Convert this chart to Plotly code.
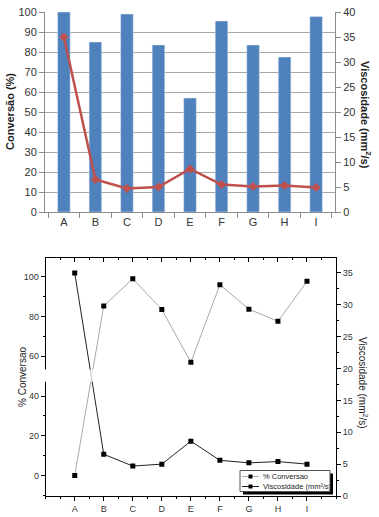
import plotly.graph_objects as go

categorias = ["A", "B", "C", "D", "E", "F", "G", "H", "I"]
conversao = [100, 85, 99, 83.5, 57, 95.5, 83.5, 77.5, 97.7]
viscosidade = [35, 6.5, 4.7, 5.0, 8.6, 5.5, 5.1, 5.3, 4.9]
conversao_inferior = [0, 85.3, 99, 83.5, 57, 96, 83.7, 77.6, 97.7]
viscosidade_inferior = [35, 6.55, 4.7, 5.0, 8.6, 5.6, 5.2, 5.4, 5.0]
legenda = ["% Conversao", "Viscosidade (mm²/s)"]
posicoes = list(range(len(categorias)))

W, H = 379, 517
ML, MR, MT, MB = 45, 43, 12, 21
PH = H - MT - MB
PW = W - ML - MR

def py(p):
    return (H - MB - p) / PH

def px(p):
    return (p - ML) / PW

fig = go.Figure()

# ---- top chart
fig.add_trace(go.Bar(x=categorias, y=conversao, marker_color="#4F81BD", width=0.4,
                     xaxis="x", yaxis="y", showlegend=False))
fig.add_trace(go.Scatter(x=categorias, y=viscosidade, mode="lines+markers",
                         line=dict(color="#C0504D", width=2.5),
                         marker=dict(symbol="diamond", size=7, color="#C0504D"),
                         xaxis="x", yaxis="y2", showlegend=False))

# ---- bottom chart
fig.add_trace(go.Scatter(x=posicoes, y=conversao_inferior, mode="lines+markers", name=legenda[0],
                         line=dict(color="#a8a8a8", width=1),
                         marker=dict(symbol="square", size=5, color="black"),
                         xaxis="x2", yaxis="y3", showlegend=False))
fig.add_trace(go.Scatter(x=posicoes, y=viscosidade_inferior, mode="lines+markers",
                         name=legenda[1],
                         line=dict(color="#222222", width=1),
                         marker=dict(symbol="square", size=5, color="black"),
                         xaxis="x2", yaxis="y4", showlegend=False))
fig.add_trace(go.Scatter(x=[0], y=[0], mode="none", xaxis="x3", yaxis="y3",
                         showlegend=False, hoverinfo="skip"))

top_dom = [py(212), 1]
bot_dom = [0, py(258.3)]

tickfont_top = dict(family="Liberation Sans, Arial", size=11, color="#333333")
tickfont_bot = dict(family="Liberation Sans, Arial", size=9, color="#333333")

fig.update_layout(
    width=W, height=H,
    margin=dict(l=ML, r=MR, t=MT, b=MB),
    paper_bgcolor="white", plot_bgcolor="white",
    bargap=0.6, showlegend=False,
    xaxis=dict(domain=[0, 290 / PW], anchor="y", type="category", automargin=False,
               showline=True, linecolor="#8c8c8c", ticks="outside", tickson="boundaries",
               ticklen=5, tickcolor="#8c8c8c", tickfont=tickfont_top, showgrid=False),
    yaxis=dict(domain=top_dom, anchor="x", range=[0, 100], dtick=10, automargin=False,
               showline=True, linecolor="#8c8c8c", ticks="outside", ticklen=5,
               tickcolor="#8c8c8c", tickfont=tickfont_top,
               showgrid=True, gridcolor="#a6a6a6", gridwidth=1, zeroline=False),
    yaxis2=dict(overlaying="y", side="right", anchor="x", range=[0, 40], dtick=5,
                automargin=False,
                showline=True, linecolor="#8c8c8c", ticks="outside", ticklen=5,
                tickcolor="#8c8c8c", tickfont=tickfont_top, showgrid=False, zeroline=False),
    xaxis2=dict(domain=[0.7 / PW, 1], anchor="y3", range=[-1, 9], automargin=False,
                tickvals=posicoes, ticktext=categorias,
                showline=True, linecolor="black", linewidth=1, mirror=True,
                ticks="outside", ticklen=4, tickcolor="black", tickfont=tickfont_bot,
                minor=dict(ticks="outside", ticklen=2, dtick=0.5, tickcolor="black"),
                showgrid=False, zeroline=False),
    xaxis3=dict(domain=[0.7 / PW, 1], anchor="y3", overlaying="x2", side="top",
                range=[-1, 9], dtick=1, tick0=0, automargin=False,
                showline=False, ticks="inside", ticklen=4, tickcolor="black",
                showticklabels=False,
                minor=dict(ticks="inside", ticklen=2, dtick=0.5, tickcolor="black"),
                showgrid=False, zeroline=False),
    yaxis3=dict(domain=bot_dom, anchor="x2", range=[-10.3, 109.3], automargin=False,
                tickvals=[0, 20, 40, 60, 80, 100],
                showline=True, linecolor="black", linewidth=1,
                ticks="outside", ticklen=4, tickcolor="black", tickfont=tickfont_bot,
                minor=dict(ticks="outside", ticklen=2, dtick=10, tickcolor="black"),
                showgrid=False, zeroline=False),
    yaxis4=dict(overlaying="y3", side="right", anchor="x2", range=[0, 37.3],
                automargin=False,
                dtick=5, showline=True, linecolor="black", linewidth=1,
                ticks="outside", ticklen=4, tickcolor="black", tickfont=tickfont_bot,
                minor=dict(ticks="outside", ticklen=2, dtick=2.5, tickcolor="black"),
                showgrid=False, zeroline=False),
)

# axis break on lower left axis
fig.add_shape(type="rect", xref="paper", yref="y3", x0=-0.04, x1=0.02, y0=47.2, y1=53.4,
              fillcolor="white", line=dict(width=0), layer="above")
fig.add_shape(type="rect", xref="paper", yref="y3", x0=0.02, x1=0.995, y0=47.2, y1=53.4,
              fillcolor="white", opacity=0.75, line=dict(width=0), layer="above")

# legend (drawn box with shadow)
fig.add_shape(type="rect", xref="paper", yref="paper",
              x0=px(243), x1=px(333), y0=py(494.5), y1=py(473.5),
              fillcolor="black", line=dict(width=0), layer="above")
fig.add_shape(type="rect", xref="paper", yref="paper",
              x0=px(240), x1=px(330), y0=py(491.5), y1=py(470.5),
              fillcolor="white", line=dict(color="#555", width=1), layer="above")
for i, (nome, cor) in enumerate(zip(legenda, ["#a8a8a8", "#222222"])):
    yy = 476.5 + i * 10
    fig.add_shape(type="line", xref="paper", yref="paper",
                  x0=px(242), x1=px(259), y0=py(yy), y1=py(yy),
                  line=dict(color=cor, width=1), layer="above")
    fig.add_shape(type="rect", xref="paper", yref="paper",
                  x0=px(248.5), x1=px(252.5), y0=py(yy + 2), y1=py(yy - 2),
                  fillcolor="black", line=dict(width=0), layer="above")
    fig.add_annotation(text=nome, xref="paper", yref="paper", x=px(261), y=py(yy),
                       xanchor="left", yanchor="middle", showarrow=False,
                       font=dict(family="Liberation Sans, Arial", size=7.5, color="#222"))

# axis titles
fig.add_annotation(text="<b>Conversão (%)</b>", textangle=-90, xref="paper", yref="paper",
                   x=px(10), y=py(112), xanchor="center", yanchor="middle", showarrow=False,
                   font=dict(family="Liberation Sans, Arial", size=11, color="#222"))
fig.add_annotation(text="<b>Viscosidade (mm<sup>2</sup>/s)</b>", textangle=90, xref="paper",
                   yref="paper", x=px(366), y=py(115), xanchor="center", yanchor="middle",
                   showarrow=False,
                   font=dict(family="Liberation Sans, Arial", size=11, color="#222"))
fig.add_annotation(text="% Conversao", textangle=-90, xref="paper", yref="paper",
                   x=px(22), y=py(377), xanchor="center", yanchor="middle", showarrow=False,
                   font=dict(family="Liberation Sans, Arial", size=10, color="#222"))
fig.add_annotation(text="Viscosidade (mm<sup>2</sup>/s)", textangle=90, xref="paper",
                   yref="paper", x=px(363), y=py(383), xanchor="center", yanchor="middle",
                   showarrow=False,
                   font=dict(family="Liberation Sans, Arial", size=10, color="#222"))

fig.write_html("out.html", post_script="document.body.style.margin='0px';",
               config={"displayModeBar": False})
